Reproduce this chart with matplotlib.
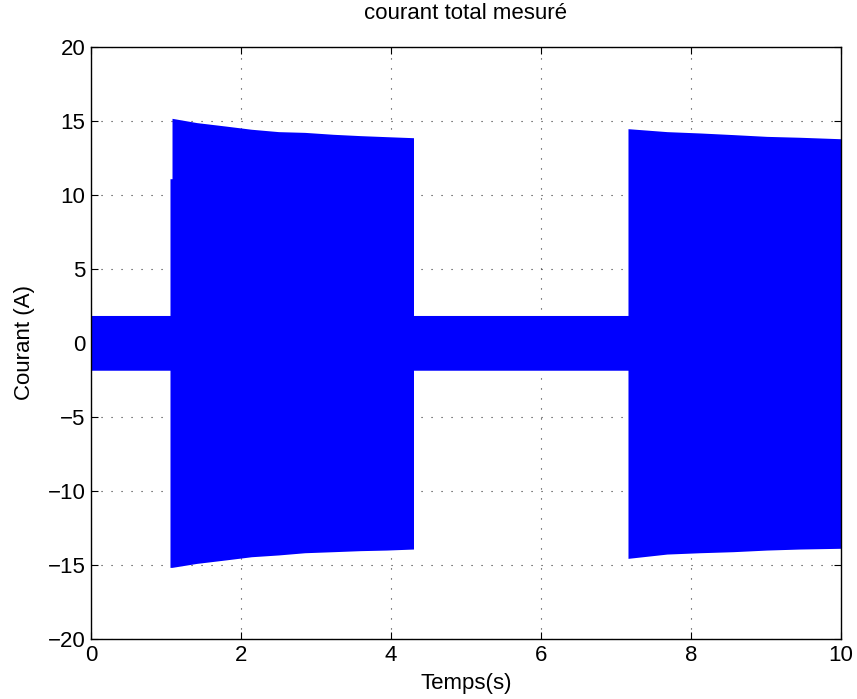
import numpy as np
import matplotlib
matplotlib.use('Agg')
import matplotlib.pyplot as plt

plt.rcParams['font.family'] = ['Liberation Sans', 'DejaVu Sans']

# Enveloppe du courant mesuré, en secondes / ampères
t_env = [0.0, 1.053, 1.053, 1.08, 1.08, 1.41, 1.79, 2.14, 2.5, 2.85, 3.23, 3.59, 3.94, 4.30,
         4.30, 7.16, 7.16, 7.68, 8.12, 8.56, 9.01, 9.45, 10.0]
i_haut = [1.86, 1.86, 11.1, 11.1, 15.18, 14.89, 14.66, 14.44, 14.28, 14.23, 14.10, 14.01, 13.94, 13.87,
          1.86, 1.86, 14.48, 14.28, 14.19, 14.08, 13.96, 13.90, 13.80]
i_bas = [-1.84, -1.84, -15.16, -15.16, -15.16, -14.89, -14.66, -14.44, -14.32, -14.17, -14.10, -14.03, -13.99, -13.92,
         -1.84, -1.84, -14.55, -14.26, -14.17, -14.10, -13.99, -13.92, -13.87]

x_ticks = [0, 2, 4, 6, 8, 10]
y_ticks = [-20, -15, -10, -5, 0, 5, 10, 15, 20]

fig = plt.figure(figsize=(8.57, 6.99), dpi=100)
ax = fig.add_axes([0.1062, 0.0858, 0.8751, 0.847])

ax.fill_between(t_env, i_bas, i_haut, color='#0000ff', linewidth=0)

ax.set_xlim(0, 10)
ax.set_ylim(-20, 20)
ax.set_xticks(x_ticks)
ax.set_yticks(y_ticks)
ax.set_yticklabels([('\u2212' + str(-v)) if v < 0 else str(v) for v in y_ticks])

ax.grid(True, color='#333333', linestyle=(0, (1, 8)), linewidth=0.8)
ax.set_axisbelow(True)
ax.tick_params(direction='in', top=True, right=True, length=5, width=0.8,
               labelsize=16, colors='black', pad=4)
for s in ax.spines.values():
    s.set_linewidth(1.0)
    s.set_zorder(5)

ax.set_title('courant total mesuré', fontsize=16, pad=20)
ax.set_xlabel('Temps(s)', fontsize=16, labelpad=5)
ax.set_ylabel('Courant (A)', fontsize=16, labelpad=9)

plt.savefig('out.png', dpi=100)
plt.close()
